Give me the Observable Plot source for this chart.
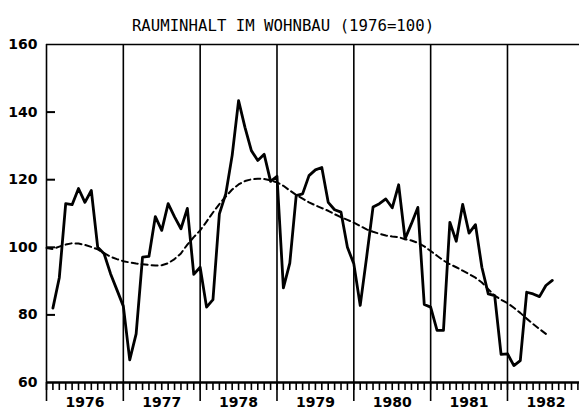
<!DOCTYPE html>
<html><head><meta charset="utf-8">
<script src="https://cdn.jsdelivr.net/npm/d3@7"></script>
<script src="https://cdn.jsdelivr.net/npm/@observablehq/plot@0.6"></script>
<style>html,body{margin:0;padding:0;background:#fff;} svg{display:block}</style>
</head><body><div id="chart"></div>
<script>
const title = "RAUMINHALT IM WOHNBAU (1976=100)";
const years = [1976, 1977, 1978, 1979, 1980, 1981, 1982];
const yearLabels = ["1976", "1977", "1978", "1979", "1980", "1981", "1982"];
const yTicks = [60, 80, 100, 120, 140, 160];
const yInnerTicks = [80, 100, 120, 140];

// monthly index values (Jan..Dec)
const index1976 = [82, 91, 112.9, 112.6, 117.4, 113.3, 116.8, 100, 98.1, 92.2, 87.4, 82.6];
const index1977 = [66.7, 74.4, 97.1, 97.3, 109.1, 105, 112.9, 109, 105.5, 111.5, 92, 94.1];
const index1978 = [82.3, 84.5, 109.9, 115.8, 127.2, 143.4, 135.5, 128.6, 125.7, 127.5, 119.5, 121];
const index1979 = [88, 95.3, 115.3, 115.8, 121.2, 122.9, 123.6, 113.3, 111.1, 110.4, 100, 95.1];
const index1980 = [82.8, 97.1, 111.9, 112.9, 114.3, 111.7, 118.5, 102.5, 107, 111.8, 83.1, 82.3];
const index1981 = [75.4, 75.4, 107.4, 101.8, 112.7, 104.2, 106.7, 94.1, 86.2, 85.7, 68.3, 68.5];
const index1982 = [65, 66.5, 86.7, 86.2, 85.4, 88.7, 90.2];

// trend (monthly, from start of 1976 to mid 1982)
const trend = [99.8, 99.5, 100.2, 100.8, 101.2, 101.1, 100.7, 100.1, 99.4, 98.3, 97.2, 96.5,
  95.9, 95.5, 95.2, 95.0, 94.8, 94.6, 94.7, 95.3, 96.5, 98.2, 100.8, 103,
  105, 107.6, 110.3, 112.8, 115, 117.1, 118.6, 119.6, 120.1, 120.3, 120.2, 119.8,
  119.2, 118.2, 116.8, 115.5, 114.4, 113.3, 112.4, 111.6, 110.8, 109.8, 108.9, 108.1,
  107.3, 106.3, 105.3, 104.6, 104, 103.5, 103.2, 103, 102.4, 102, 101.3, 100.3,
  98.9, 97.5, 96.1, 95, 94.1, 93.1, 92.1, 91, 89.6, 87.6, 85.7, 84.5,
  83.5, 82.1, 80.6, 78.9, 77.3, 75.8, 74.4];

const allIndex = [].concat(index1976, index1977, index1978, index1979, index1980, index1981, index1982);
const indexData = allIndex.map((v, i) => ({t: 1976 + (i + 1) / 12, v}));
const trendData = trend.map((v, i) => ({t: 1976 + i / 12, v}));
const monthTicks = d3.range(0, 84).map(k => 1976 + k / 12);

const W = 579, H = 412, ML = 46, MR = 0, MT = 44, MB = 30;
const numFont = "DejaVu Sans";

const chart = Plot.plot({
  width: W, height: H,
  marginLeft: ML, marginRight: MR, marginTop: MT, marginBottom: MB,
  style: {background: "#fff", color: "#000", fontFamily: numFont},
  x: {type: "linear", domain: [1976, 1983], range: [ML, ML + 7 * 76.83], axis: null},
  y: {domain: [60, 160], axis: null},
  marks: [
    Plot.ruleX(years, {stroke: "#000", strokeWidth: 1.6, insetBottom: -19}),
    Plot.ruleY([160], {stroke: "#000", strokeWidth: 1.6}),
    Plot.ruleY([60], {stroke: "#000", strokeWidth: 2.6}),
    Plot.tickY(yInnerTicks, {y: d => d, stroke: "#000", strokeWidth: 2, insetRight: (W - ML - MR) - 9}),
    Plot.axisX(monthTicks, {tickSize: 8, strokeWidth: 1.6, fill: "none", label: null}),
    Plot.text(yearLabels, {x: (d, i) => years[i] + 0.5, frameAnchor: "bottom", dy: 24, fontSize: 14, fontWeight: "bold", fontFamily: numFont, fill: "#000"}),
    Plot.text(yTicks, {y: d => d, text: d => String(d), frameAnchor: "left", dx: -9, textAnchor: "end", fontSize: 14, fontWeight: "bold", fontFamily: numFont, fill: "#000"}),
    Plot.line(trendData, {x: "t", y: "v", stroke: "#000", strokeWidth: 2, strokeDasharray: "6,4"}),
    Plot.line(indexData, {x: "t", y: "v", stroke: "#000", strokeWidth: 2.8, strokeLinejoin: "round"}),
    Plot.text([title], {frameAnchor: "top", dy: -25, dx: -30, fontSize: 15.7, fontFamily: "DejaVu Sans Mono", fill: "#000"})
  ]
});
document.getElementById("chart").appendChild(chart);
</script>
</body></html>
